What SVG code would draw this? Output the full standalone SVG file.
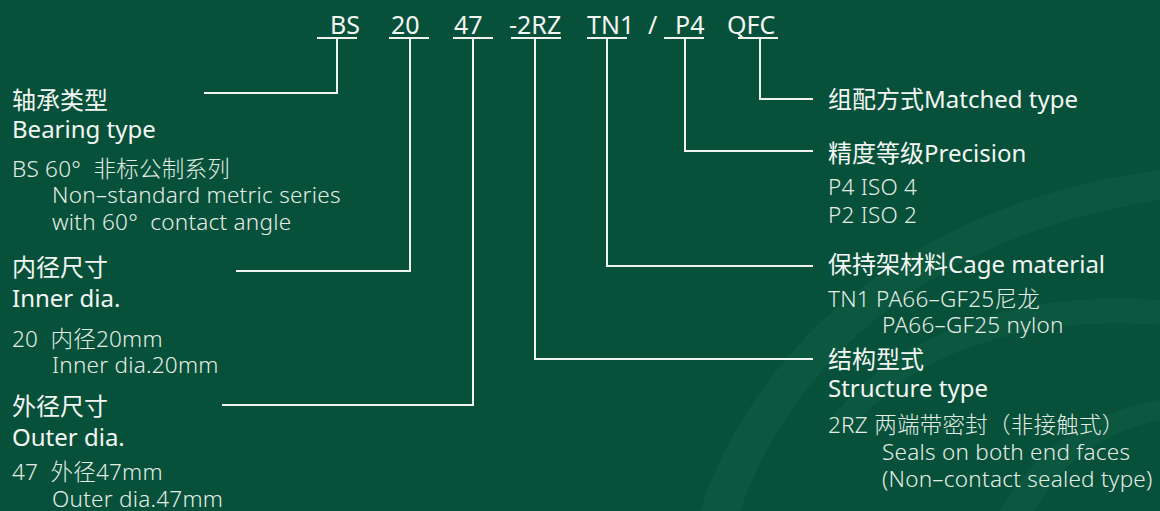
<svg xmlns="http://www.w3.org/2000/svg" width="1160" height="511" viewBox="0 0 1160 511">
<defs>
<style>
text{font-family:"Noto Sans","Noto Sans CJK SC",sans-serif;fill:#f3f6f3;white-space:pre}
.code{font-size:25px}
.h{font-size:24px}
.d{font-size:22.5px;fill:#e4ece6;font-weight:300;letter-spacing:0.25px}
.ln{stroke:#eef3ef;stroke-width:2;fill:none}
.deco{fill:#0f5c43;opacity:0.6}
</style>
</defs>
<rect width="1160" height="511" fill="#07513a"/>
<g id="decoration">
<path class="deco" d="M700 511 C760 330 930 200 1160 170 L1160 200 C960 230 800 340 740 511 Z"/>
<path class="deco" d="M830 420 C900 330 1020 290 1160 300 L1160 325 C1030 315 920 350 860 420 Z"/>
<path class="deco" d="M1000 511 C1040 440 1100 410 1160 400 L1160 420 C1110 430 1060 460 1035 511 Z"/>
</g>
<g id="codes">
<text class="code" x="330" y="34">BS</text>
<text class="code" x="391" y="34">20</text>
<text class="code" x="454" y="34">47</text>
<text class="code" x="509" y="34">-2RZ</text>
<text class="code" x="587" y="34">TN1</text>
<text class="code" x="648" y="34">/</text>
<text class="code" x="675" y="34">P4</text>
<text class="code" x="727" y="34">QFC</text>
</g>
<g id="connectors">
<path class="ln" d="M317 38 H357 M337 38 V93 H204"/>
<path class="ln" d="M389 38 H429 M410 38 V271 H236"/>
<path class="ln" d="M453 38 H493 M473 38 V405 H222"/>
<path class="ln" d="M511 38 H561 M535 38 V359 H813"/>
<path class="ln" d="M587 38 H627 M607 38 V266 H813"/>
<path class="ln" d="M664 38 H704 M685 38 V151 H813"/>
<path class="ln" d="M738 38 H778 M760 38 V99 H813"/>
</g>
<g id="bearing-type">
<text class="h" x="12" y="109">轴承类型</text>
<text class="h" x="12" y="138">Bearing type</text>
<text class="d" x="12" y="177">BS 60°  非标公制系列</text>
<text class="d" x="52" y="203">Non–standard metric series</text>
<text class="d" x="52" y="230">with 60°  contact angle</text>
</g>
<g id="inner-dia">
<text class="h" x="12" y="276">内径尺寸</text>
<text class="h" x="12" y="307">Inner dia.</text>
<text class="d" x="12" y="347">20  内径20mm</text>
<text class="d" x="52" y="373">Inner dia.20mm</text>
</g>
<g id="outer-dia">
<text class="h" x="12" y="415">外径尺寸</text>
<text class="h" x="12" y="446">Outer dia.</text>
<text class="d" x="12" y="480">47  外径47mm</text>
<text class="d" x="52" y="507">Outer dia.47mm</text>
</g>
<g id="matched-type">
<text class="h" x="828" y="108">组配方式Matched type</text>
</g>
<g id="precision">
<text class="h" x="828" y="162">精度等级Precision</text>
<text class="d" x="828" y="195">P4 ISO 4</text>
<text class="d" x="828" y="223">P2 ISO 2</text>
</g>
<g id="cage-material">
<text class="h" x="828" y="273">保持架材料Cage material</text>
<text class="d" x="828" y="307">TN1 PA66–GF25尼龙</text>
<text class="d" x="882" y="333">PA66–GF25 nylon</text>
</g>
<g id="structure-type">
<text class="h" x="828" y="368">结构型式</text>
<text class="h" x="828" y="397">Structure type</text>
<text class="d" x="828" y="433">2RZ 两端带密封（非接触式）</text>
<text class="d" x="882" y="460">Seals on both end faces</text>
<text class="d" x="882" y="487">(Non–contact sealed type)</text>
</g>
</svg>
